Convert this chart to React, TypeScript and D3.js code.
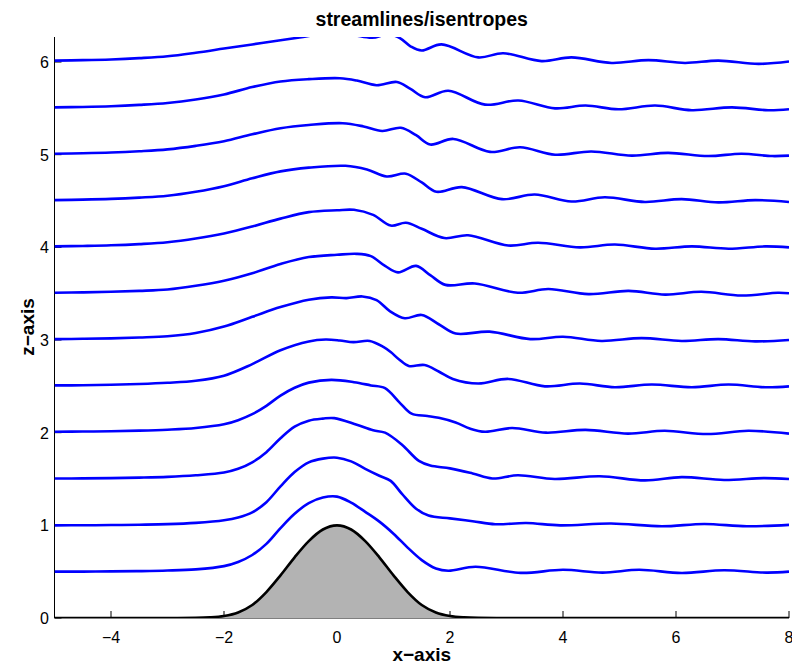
import React from "react";
import * as d3 from "d3";

type P = [number, number];

// ---- data (x, z) ----
const xTicks = [-4, -2, 0, 2, 4, 6, 8];
const yTicks = [0, 1, 2, 3, 4, 5, 6];

const terrain: P[] = [[-5,0],[-3,0],[-2.5,0.002],[-2.25,0.007],[-2,0.022],[-1.75,0.06],[-1.5,0.14],[-1.25,0.28],[-1,0.46],[-0.75,0.655],[-0.5,0.83],[-0.25,0.955],[0,1],[0.25,0.955],[0.5,0.83],[0.75,0.655],[1,0.46],[1.25,0.28],[1.5,0.14],[1.75,0.06],[2,0.022],[2.25,0.007],[2.5,0.002],[3,0],[8,0]];

const s05: P[] = [[-5,0.5],[-4.5,0.501],[-4,0.503],[-3.5,0.506],[-3,0.512],[-2.5,0.525],[-2,0.56],[-1.75,0.605],[-1.5,0.68],[-1.25,0.8],[-1,0.97],[-0.75,1.125],[-0.5,1.24],[-0.25,1.3],[0,1.31],[0.25,1.245],[0.5,1.145],[0.75,1.04],[1,0.91],[1.25,0.76],[1.5,0.625],[1.75,0.535],[1.97,0.51],[2.45,0.553],[3.25,0.487],[4.0,0.52],[4.7,0.49],[5.35,0.52],[6.1,0.486],[6.85,0.515],[7.6,0.49],[8,0.5]];
const s10: P[] = [[-5,1.0],[-4.5,1.001],[-4,1.003],[-3.5,1.007],[-3,1.013],[-2.5,1.027],[-2,1.055],[-1.75,1.085],[-1.5,1.14],[-1.25,1.25],[-1,1.42],[-0.75,1.575],[-0.5,1.68],[-0.25,1.72],[0,1.73],[0.25,1.69],[0.5,1.61],[0.75,1.535],[0.95,1.48],[1.15,1.34],[1.4,1.18],[1.62,1.105],[2.0,1.075],[2.4,1.045],[2.8,1.012],[3.35,1.025],[3.95,1.0],[4.85,1.02],[5.75,0.99],[6.5,1.015],[7.25,0.99],[8,1.005]];
const s15: P[] = [[-5,1.505],[-4.5,1.507],[-4,1.51],[-3.5,1.515],[-3,1.523],[-2.5,1.54],[-2,1.57],[-1.75,1.61],[-1.5,1.68],[-1.25,1.79],[-1,1.94],[-0.75,2.065],[-0.5,2.13],[-0.25,2.152],[-0.05,2.157],[0.35,2.085],[0.64,2.025],[0.85,2.0],[1.15,1.87],[1.45,1.695],[1.65,1.645],[2.0,1.615],[2.4,1.56],[2.75,1.505],[3.2,1.54],[3.85,1.5],[4.65,1.53],[5.45,1.485],[6.1,1.52],[6.85,1.49],[7.55,1.51],[8,1.5]];
const s20: P[] = [[-5,2.01],[-4.5,2.012],[-4,2.016],[-3.5,2.022],[-3,2.032],[-2.5,2.05],[-2,2.09],[-1.75,2.135],[-1.5,2.2],[-1.25,2.29],[-1,2.4],[-0.75,2.485],[-0.5,2.54],[-0.1,2.57],[0.3,2.545],[0.6,2.51],[0.85,2.48],[1.1,2.33],[1.32,2.205],[1.6,2.18],[1.8,2.16],[2.1,2.11],[2.35,2.045],[2.62,2.01],[3.1,2.05],[3.7,2.0],[4.4,2.03],[5.15,1.99],[5.8,2.02],[6.55,1.985],[7.28,2.02],[8,1.99]];
const s25: P[] = [[-5,2.51],[-4.5,2.512],[-4,2.517],[-3.5,2.525],[-3,2.538],[-2.5,2.56],[-2,2.615],[-1.5,2.74],[-1,2.89],[-0.5,2.985],[-0.2,3.005],[0.05,2.995],[0.29,2.977],[0.58,2.99],[0.82,2.925],[0.95,2.87],[1.1,2.79],[1.27,2.72],[1.55,2.73],[1.8,2.66],[2.05,2.58],[2.5,2.53],[3.03,2.58],[3.68,2.5],[4.3,2.53],[4.92,2.49],[5.57,2.52],[6.28,2.49],[6.93,2.52],[7.58,2.49],[8,2.5]];
const s30: P[] = [[-5,3.01],[-4.5,3.013],[-4,3.018],[-3.5,3.027],[-3,3.04],[-2.5,3.075],[-2,3.145],[-1.5,3.25],[-1,3.355],[-0.5,3.435],[-0.1,3.46],[0.17,3.452],[0.45,3.47],[0.7,3.43],[0.94,3.31],[1.2,3.235],[1.5,3.27],[1.8,3.17],[2.1,3.07],[2.7,3.09],[3.42,3.01],[4.0,3.035],[4.68,2.99],[5.39,3.02],[6.1,2.99],[6.75,3.01],[7.4,2.985],[8,3.0]];
const s35: P[] = [[-5,3.51],[-4.5,3.514],[-4,3.52],[-3.5,3.53],[-3,3.545],[-2.5,3.585],[-2,3.64],[-1.5,3.72],[-1,3.82],[-0.5,3.895],[0,3.92],[0.35,3.93],[0.6,3.905],[0.85,3.8],[1.08,3.73],[1.4,3.8],[1.65,3.7],[1.92,3.595],[2.44,3.61],[3.2,3.51],[3.74,3.55],[4.45,3.495],[5.16,3.53],[5.81,3.49],[6.45,3.52],[7.16,3.48],[7.8,3.51],[8,3.505]];
const s40: P[] = [[-5,4.01],[-4.5,4.015],[-4,4.022],[-3.5,4.035],[-3,4.055],[-2.5,4.095],[-2,4.15],[-1.5,4.225],[-1,4.31],[-0.5,4.38],[0,4.4],[0.3,4.405],[0.64,4.35],[0.95,4.235],[1.22,4.265],[1.5,4.2],[1.9,4.1],[2.32,4.13],[3.03,4.02],[3.56,4.05],[4.3,4.0],[4.92,4.03],[5.63,3.985],[6.28,4.01],[6.93,3.985],[7.58,4.01],[8,4.0]];
const s45: P[] = [[-5,4.51],[-4.5,4.515],[-4,4.523],[-3.5,4.537],[-3,4.557],[-2.5,4.6],[-2,4.66],[-1.5,4.745],[-1,4.82],[-0.5,4.86],[0.15,4.88],[0.53,4.84],[0.88,4.765],[1.22,4.795],[1.5,4.7],[1.76,4.6],[2.21,4.65],[2.92,4.52],[3.5,4.57],[4.15,4.495],[4.74,4.54],[5.45,4.49],[6.1,4.52],[6.75,4.485],[7.4,4.51],[8,4.49]];
const s50: P[] = [[-5,5.01],[-4.5,5.015],[-4,5.023],[-3.5,5.037],[-3,5.057],[-2.5,5.095],[-2,5.145],[-1.5,5.22],[-1,5.285],[-0.5,5.32],[0.1,5.34],[0.47,5.305],[0.8,5.255],[1.13,5.29],[1.4,5.21],[1.65,5.11],[2.06,5.17],[2.71,5.03],[3.24,5.08],[3.86,5.0],[4.5,5.035],[5.22,4.99],[5.86,5.02],[6.57,4.985],[7.16,5.01],[7.7,4.985],[8,4.99]];
const s55: P[] = [[-5,5.51],[-4.5,5.515],[-4,5.523],[-3.5,5.537],[-3,5.557],[-2.5,5.595],[-2,5.65],[-1.5,5.73],[-1,5.79],[-0.5,5.815],[0.05,5.825],[0.35,5.8],[0.7,5.75],[1.06,5.785],[1.3,5.71],[1.56,5.62],[1.97,5.69],[2.62,5.54],[3.21,5.585],[3.86,5.5],[4.4,5.53],[4.98,5.49],[5.63,5.53],[6.28,5.48],[6.99,5.51],[7.63,5.48],[8,5.49]];
const s60: P[] = [[-5,6.015],[-4.5,6.02],[-4,6.028],[-3.5,6.042],[-3,6.062],[-2.5,6.1],[-2,6.145],[-1.5,6.19],[-1,6.235],[-0.6,6.27],[-0.3,6.3],[0,6.31],[0.3,6.29],[0.62,6.262],[0.92,6.3],[1.12,6.255],[1.3,6.17],[1.5,6.125],[1.85,6.19],[2.5,6.05],[2.94,6.095],[3.62,6.01],[4.15,6.05],[4.86,5.99],[5.51,6.02],[6.16,5.99],[6.75,6.015],[7.46,5.98],[8,6.005]];

const streamlines = [s05, s10, s15, s20, s25, s30, s35, s40, s45, s50, s55, s60];

const xDomain: [number, number] = [-5, 8];
const yDomain: [number, number] = [0, 6.27];

const FONT = "'Liberation Sans', Arial, Helvetica, sans-serif";

function fmt(t: number) {
  return t < 0 ? "\u2212" + Math.abs(t) : String(t);
}

export default function App() {
  const x = d3.scaleLinear().domain(xDomain).range([54.5, 789]);
  const y = d3.scaleLinear().domain(yDomain).range([618, 37]);

  const line = d3
    .line<P>()
    .x((d) => x(d[0]))
    .y((d) => y(d[1]))
    .curve(d3.curveCatmullRom.alpha(0.5));

  const tLine = d3
    .line<P>()
    .x((d) => x(d[0]))
    .y((d) => y(d[1]))
    .curve(d3.curveMonotoneX);

  const tArea = d3
    .area<P>()
    .x((d) => x(d[0]))
    .y0(y(0))
    .y1((d) => y(d[1]))
    .curve(d3.curveMonotoneX);

  const x0 = x(xDomain[0]);
  const x1 = x(xDomain[1]);
  const yb = y(yDomain[0]);
  const yt = y(yDomain[1]);

  return (
    <svg
      width={792}
      height={664}
      style={{ position: "absolute", left: 0, top: 0, background: "#fff" }}
    >
      <defs>
        <clipPath id="plotclip">
          <rect x={x0} y={yt} width={x1 - x0} height={yb - yt} />
        </clipPath>
      </defs>
      <rect x={0} y={0} width={792} height={664} fill="#fff" />

      {/* axes */}
      <line x1={x0} y1={yb} x2={x1} y2={yb} stroke="#000" strokeWidth={1} />
      <line x1={x0} y1={yb} x2={x0} y2={yt} stroke="#000" strokeWidth={1} />
      {xTicks.map((t) => (
        <g key={"xt" + t}>
          <line x1={x(t)} x2={x(t)} y1={yb} y2={yb - 7} stroke="#000" strokeWidth={1} />
          <text x={x(t)} y={643} textAnchor="middle" fontFamily={FONT} fontSize={16} fill="#000">
            {fmt(t)}
          </text>
        </g>
      ))}
      {yTicks.map((t) => (
        <g key={"yt" + t}>
          <line x1={x0} x2={x0 + 7} y1={y(t)} y2={y(t)} stroke="#000" strokeWidth={1} />
          <text x={49} y={y(t) + 6} textAnchor="end" fontFamily={FONT} fontSize={16} fill="#000">
            {fmt(t)}
          </text>
        </g>
      ))}

      <g clipPath="url(#plotclip)">
        <path d={tArea(terrain) || ""} fill="#b3b3b3" stroke="none" />
        <path d={tLine(terrain) || ""} fill="none" stroke="#000" strokeWidth={2.6} />
        {streamlines.map((s, i) => (
          <path
            key={"s" + i}
            d={line(s) || ""}
            fill="none"
            stroke="#0000ff"
            strokeWidth={2.6}
            strokeLinejoin="round"
          />
        ))}
      </g>

      <text x={(x0 + x1) / 2} y={26} textAnchor="middle" fontFamily={FONT} fontWeight="bold" fontSize={19.5} fill="#000">
        streamlines/isentropes
      </text>
      <text x={(x0 + x1) / 2} y={661} textAnchor="middle" fontFamily={FONT} fontWeight="bold" fontSize={19} fill="#000">
        x{"\u2212"}axis
      </text>
      <text transform="translate(34, 327) rotate(-90)" textAnchor="middle" fontFamily={FONT} fontWeight="bold" fontSize={19} fill="#000">
        z{"\u2212"}axis
      </text>
    </svg>
  );
}
